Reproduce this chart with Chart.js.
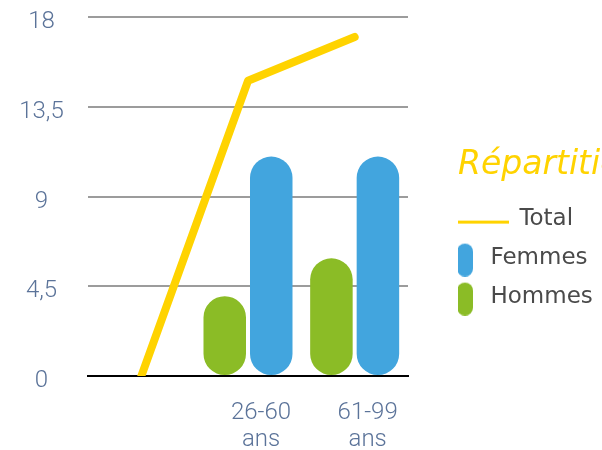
<!DOCTYPE html>
<html><head><meta charset="utf-8">
<script src="https://cdn.jsdelivr.net/npm/chart.js@4"></script>
<style>html,body{margin:0;padding:0;background:#fff}canvas{display:block}</style>
</head><body>
<canvas id="c" width="602" height="450"></canvas>
<script>
// ---- data ----
const categories = ['', ['26-60', 'ans'], ['61-99', 'ans']];
const totalValues = [0, 14.8, 17];
const hommesValues = [null, 4, 5.9];
const femmesValues = [null, 11, 11];
const yTickValues = [0, 4.5, 9, 13.5, 18];
const legendTitle = 'Répartition';
const seriesTotal = 'Total';
const seriesFemmes = 'Femmes';
const seriesHommes = 'Hommes';

// ---- styles ----
const C_TOTAL = '#FFD300', C_FEMMES = '#42A5DE', C_HOMMES = '#8BBC26';
const C_TICK = '#5B7399', C_LEGEND = '#4A4A4A', C_GRID = '#9C9C9C';
const FONT = '"DejaVu Sans", sans-serif';
const TICKFONT = 'Roboto, "DejaVu Sans", sans-serif';
const YFS = 24, XFS = 24, LFS = 23, TFS = 33;

function measure(t, f) { const g = document.createElement('canvas').getContext('2d'); g.font = f; return g.measureText(t).width; }
const widestY = Math.max(...yTickValues.map(v => measure(String(v).replace('.', ','), '300 ' + YFS + 'px ' + TICKFONT)));
const yPad = 88 - 41.5 - widestY / 2;

const legPadding = 16, legBox = 5;
const legNatural = legPadding + legBox + LFS / 2 + Math.max(...[seriesTotal, seriesFemmes, seriesHommes].map(t => measure(t, LFS + 'px ' + FONT))) + 10;
const padRight = Math.max(0, 144 - legNatural);

function pillImg(color) {
  const c = document.createElement('canvas'); c.width = 39; c.height = 37;
  const g = c.getContext('2d'); g.fillStyle = color; g.beginPath(); g.roundRect(0, 4, 16, 33, 8); g.fill();
  return c;
}
function lineImg(color) {
  const c = document.createElement('canvas'); c.width = 65; c.height = 13;
  const g = c.getContext('2d'); g.fillStyle = color; g.fillRect(13, 8, 52, 3);
  return c;
}

new Chart(document.getElementById('c'), {
  data: {
    labels: categories,
    datasets: [
      { type: 'line', label: seriesTotal, data: totalValues, borderColor: C_TOTAL, backgroundColor: C_TOTAL,
        borderWidth: 8, pointRadius: 0, borderCapStyle: 'round', borderJoinStyle: 'round', tension: 0 },
      { type: 'bar', label: seriesHommes, data: hommesValues, backgroundColor: C_HOMMES,
        borderRadius: 22, borderSkipped: false, categoryPercentage: 0.872, barPercentage: 0.914 },
      { type: 'bar', label: seriesFemmes, data: femmesValues, backgroundColor: C_FEMMES,
        borderRadius: 22, borderSkipped: false, categoryPercentage: 0.872, barPercentage: 0.914 }
    ]
  },
  options: {
    responsive: false, animation: false,
    layout: { padding: { top: 17, left: 0, right: padRight, bottom: 0 } },
    plugins: {
      tooltip: { enabled: false },
      legend: {
        position: 'right', align: 'start', maxWidth: 144,
        title: { display: true, text: legendTitle, position: 'start', color: C_TOTAL,
                 font: { family: FONT, size: TFS, style: 'italic', lineHeight: 1.2 },
                 padding: { top: 131.5, bottom: 3.5 } },
        labels: {
          usePointStyle: true, boxWidth: legBox, padding: legPadding, color: C_LEGEND,
          font: { family: FONT, size: LFS },
          generateLabels: (chart) => {
            const ds = chart.data.datasets;
            return [
              { text: ds[0].label, datasetIndex: 0, fillStyle: C_TOTAL, strokeStyle: C_TOTAL, lineWidth: 0, hidden: false,
                pointStyle: lineImg(C_TOTAL), textAlign: 'center', fontColor: C_LEGEND },
              { text: ds[2].label, datasetIndex: 2, fillStyle: C_FEMMES, strokeStyle: C_FEMMES, lineWidth: 0, hidden: false,
                pointStyle: pillImg(C_FEMMES), textAlign: 'left', fontColor: C_LEGEND },
              { text: ds[1].label, datasetIndex: 1, fillStyle: C_HOMMES, strokeStyle: C_HOMMES, lineWidth: 0, hidden: false,
                pointStyle: pillImg(C_HOMMES), textAlign: 'left', fontColor: C_LEGEND }
            ];
          }
        }
      }
    },
    scales: {
      x: {
        type: 'category',
        grid: { display: false, drawTicks: false },
        border: { display: true, color: '#000000', width: 2 },
        ticks: { color: C_TICK, font: { family: TICKFONT, size: XFS, weight: 300, lineHeight: 1.15 }, padding: 23, labelOffset: 13,
                 maxRotation: 0, autoSkip: false },
        afterFit: (s) => { s.height = 74; s.paddingLeft = 0; s.paddingRight = 0; }
      },
      y: {
        type: 'linear', position: 'left', min: 0, max: 18,
        afterBuildTicks: (s) => { s.ticks = yTickValues.map(v => ({ value: v })); },
        grid: { color: (ctx) => (ctx.tick && ctx.tick.value === 0) ? 'rgba(0,0,0,0)' : C_GRID, lineWidth: 2, drawTicks: false },
        border: { display: false },
        ticks: { color: C_TICK, font: { family: TICKFONT, size: YFS, weight: 300 }, padding: yPad, crossAlign: 'center', labelOffset: 5,
                 callback: (v) => String(v).replace('.', ',') },
        afterFit: (s) => { s.width = 88; s.paddingTop = 0; s.paddingBottom = 0; }
      },
      spacer: {
        type: 'linear', position: 'right', display: true,
        grid: { display: false, drawTicks: false }, border: { display: false }, ticks: { display: false },
        afterFit: (s) => { s.width = 50; s.paddingTop = 0; s.paddingBottom = 0; }
      }
    }
  }
});
</script>
</body></html>
